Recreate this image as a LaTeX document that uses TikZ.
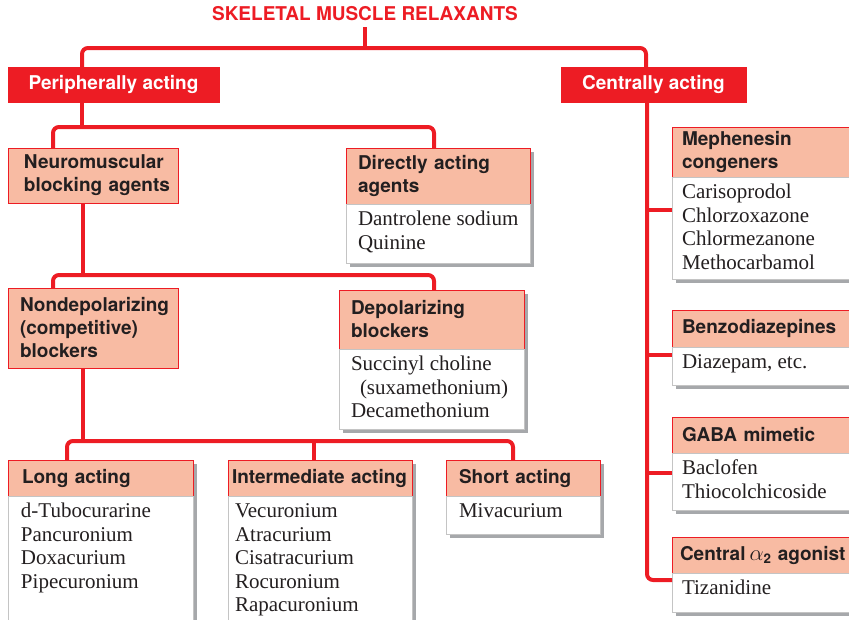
\documentclass[tikz,border=0pt]{standalone}
\usepackage{fontspec}
\usepackage{graphicx}
\setmainfont{Liberation Serif}
\newfontfamily\hfont{TeX Gyre Heros}
\usetikzlibrary{calc,backgrounds}
\definecolor{cred}{HTML}{ED1C24}
\definecolor{salmon}{HTML}{F8BBA3}
\definecolor{tdark}{HTML}{231F20}
\definecolor{lgray}{HTML}{C4C4C4}
\definecolor{shgray}{HTML}{A6A8AB}
\newcommand\lstbox[4]{\parbox[t][#2pt][t]{#1pt}{\leftskip=#3pt\relax\parindent=0pt\vspace*{5.5pt}\strut #4}}
\tikzset{
  conn/.style={draw=cred, line width=4pt, rounded corners=6pt},
  titlef/.style={font=\hfont\bfseries\fontsize{19}{23}\selectfont, text=cred, inner sep=0pt},
  topbox/.style={fill=cred, draw=cred, text=white, font=\hfont\bfseries\fontsize{19}{23}\selectfont,
    anchor=north west, inner sep=0pt, outer sep=0pt},
  hdr/.style={fill=salmon, draw=cred, line width=0.9pt, text=tdark,
    font=\hfont\bfseries\fontsize{19}{23}\selectfont, anchor=north west, align=left,
    inner ysep=0pt, outer sep=0pt},
  lst/.style={fill=white, draw=lgray, line width=0.9pt, anchor=north west, inner sep=0pt,
    outer sep=0pt, text=tdark, font=\fontsize{21}{23.5}\selectfont},
}
\begin{document}
\begin{tikzpicture}[x=1pt,y=-1pt]
\useasboundingbox (0,0) rectangle (849,619);

% title and first level
\node[titlef] (title) at (365,14) {SKELETAL MUSCLE RELAXANTS};
\node[topbox, minimum width=211pt, minimum height=35pt] (per) at (8,67) {Peripherally acting};
\node[topbox, minimum width=185pt, minimum height=35pt] (cen) at (561,67) {Centrally acting};

% peripheral branch
\node[hdr, minimum height=55pt, inner xsep=4pt, text width=162pt] (nmb) at (8,148) {\hspace*{12pt}Neuromuscular\\\hspace*{12pt}blocking agents};
\node[hdr, minimum height=56pt, inner xsep=12pt, text width=160pt] (dah) at (346,148) {Directly acting\\agents};
\node[lst] (dal) at (dah.south west) {\lstbox{184}{59}{12}{Dantrolene sodium\\Quinine}};

\node[hdr, minimum height=80pt, inner xsep=12pt, text width=146pt] (ndp) at (8,288) {Nondepolarizing\\(competitive)\\blockers};
\node[hdr, minimum height=59pt, inner xsep=12pt, text width=161pt] (dph) at (339,290) {Depolarizing\\blockers};
\node[lst] (dpl) at (dph.south west) {\lstbox{185}{80}{12}{Succinyl choline\\\hspace*{9pt}(suxamethonium)\\Decamethonium}};

\node[hdr, minimum height=36pt, inner xsep=14pt, text width=157pt] (lah) at (8,460) {Long acting};
\node[lst] (lal) at (lah.south west) {\lstbox{185}{140}{13}{d-Tubocurarine\\Pancuronium\\Doxacurium\\Pipecuronium}};
\node[hdr, minimum height=36pt, inner xsep=4pt, text width=176pt] (iah) at (228,460) {Intermediate acting};
\node[lst] (ial) at (iah.south west) {\lstbox{184}{140}{7}{Vecuronium\\Atracurium\\Cisatracurium\\Rocuronium\\Rapacuronium}};
\node[hdr, minimum height=36pt, inner xsep=13pt, text width=128pt] (sah) at (446,460) {Short acting};
\node[lst] (sal) at (sah.south west) {\lstbox{154}{38}{13}{Mivacurium}};

% central branch
\node[hdr, minimum height=50pt, inner xsep=10pt, text width=178pt] (meh) at (672,127) {Mephenesin\\congeners};
\node[lst] (mel) at (meh.south west) {\lstbox{198}{102}{10}{Carisoprodol\\Chlorzoxazone\\Chlormezanone\\Methocarbamol}};
\node[hdr, minimum height=37pt, inner xsep=10pt, text width=178pt] (bzh) at (672,310) {Benzodiazepines};
\node[lst] (bzl) at (bzh.south west) {\lstbox{198}{38}{10}{Diazepam, etc.}};
\node[hdr, minimum height=36pt, inner xsep=10pt, text width=178pt] (gbh) at (672,417) {GABA mimetic};
\node[lst] (gbl) at (gbh.south west) {\lstbox{198}{57}{10}{Baclofen\\Thiocolchicoside}};
\node[hdr, minimum height=36pt, inner xsep=8pt, text width=182pt] (cah) at (672,537) {Central\hspace{4pt}\scalebox{1.3}{$\alpha$}\textsubscript{2} agonist};
\node[lst] (cal) at (cah.south west) {\lstbox{198}{39}{10}{Tizanidine}};

% shadows
\begin{scope}[on background layer]
\foreach \a/\b in {dah/dal, dph/dpl, lah/lal, iah/ial, sah/sal, meh/mel, bzh/bzl, gbh/gbl, cah/cal}
  \fill[shgray] ($(\a.north west)+(4,4)$) rectangle ($(\b.south east)+(4,4)$);
\end{scope}

% connectors
\coordinate (bar1) at (365,48);
\draw[conn] ([yshift=-6pt]title.south) -- (bar1);
\draw[conn] ($(per.north west)+(74,0)$) |- (bar1) -| ($(cen.north west)+(85,0)$);

\coordinate (bar2) at (82,127);
\draw[conn] ($(per.south west)+(74,0)$) -- (bar2);
\draw[conn] ($(nmb.north west)+(45,0)$) |- (bar2) -| ($(dah.north west)+(88,0)$);

\coordinate (bar3) at (83,275);
\draw[conn] ($(nmb.south west)+(75,0)$) -- (bar3);
\draw[conn] ($(ndp.north west)+(45,0)$) |- (bar3) -| ($(dph.north west)+(95,0)$);

\coordinate (bar4) at (83,441);
\draw[conn] ($(ndp.south west)+(75,0)$) -- (bar4);
\draw[conn] ($(lah.north west)+(59,0)$) |- (bar4) -| ($(sah.north west)+(67,0)$);
\coordinate (idrop) at ($(iah.north west)+(86,0)$);
\draw[conn] (idrop) -- (idrop |- bar4);

\coordinate (stem) at ($(cen.south west)+(86,0)$);
\draw[conn] (stem) |- ($(cal.north west)+(0,7)$);
\coordinate (mbr) at ($(mel.north west)+(0,33)$);
\coordinate (bbr) at ($(bzl.north west)+(0,8)$);
\coordinate (gbr) at ($(gbl.north west)+(0,20)$);
\foreach \c in {mbr,bbr,gbr}
  \draw[conn] (stem |- \c) -- (\c);
\end{tikzpicture}
\end{document}
